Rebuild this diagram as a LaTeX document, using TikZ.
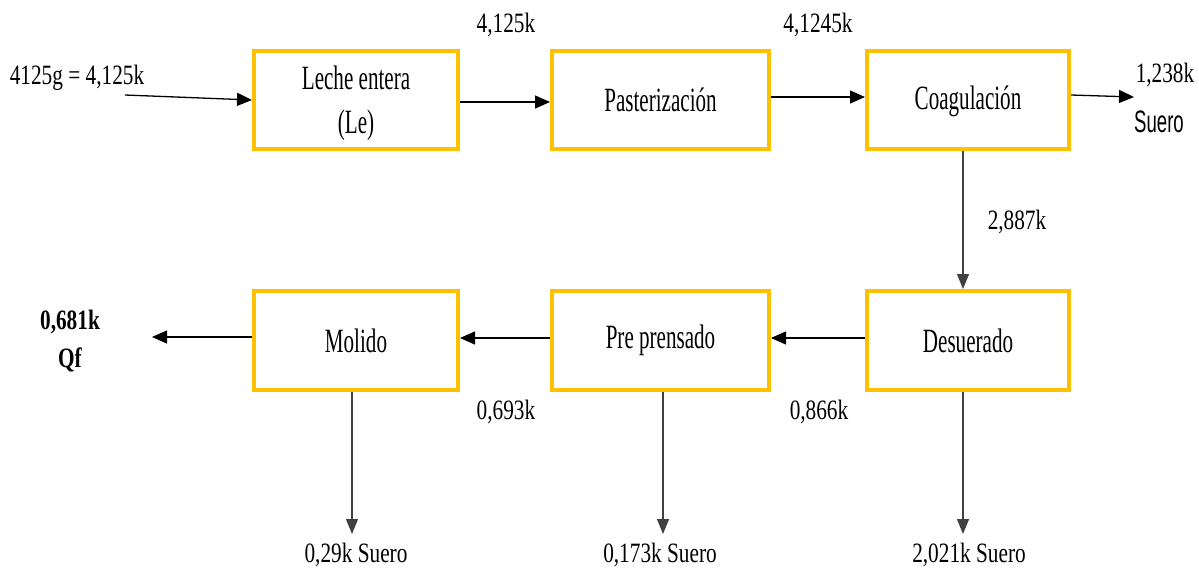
\documentclass[tikz,border=0pt]{standalone}
\usepackage{fontspec}
\usetikzlibrary{arrows.meta}
\newfontfamily\labfont[FakeStretch=0.76]{Liberation Serif}
\newfontfamily\boxfont[FakeStretch=0.62]{Liberation Serif}
\newfontfamily\sansnarrow[FakeStretch=0.6]{Liberation Sans}
\definecolor{boxyellow}{HTML}{FFC000}
\tikzset{
  procbox/.style={draw=boxyellow, line width=4pt, rectangle, inner sep=0pt,
    minimum height=98pt, font=\boxfont\fontsize{34}{44}\selectfont, align=center},
  flow/.style={draw=black, line width=1.3pt, -{Triangle[length=15pt,width=13pt]}},
  downflow/.style={draw=black!75, line width=1.1pt, -{Triangle[length=15pt,width=12pt]}},
  lab/.style={inner sep=0pt, font=\labfont\fontsize{28}{30}\selectfont},
  blab/.style={inner sep=0pt, font=\labfont\bfseries\fontsize{28}{30}\selectfont},
  slab/.style={inner sep=0pt, font=\sansnarrow\fontsize{31}{33}\selectfont}
}
\begin{document}
\begin{tikzpicture}[x=1pt,y=-1pt]
\useasboundingbox (0,0) rectangle (1199,571);
% boxes
\node[procbox, minimum width=204pt] (le) at (356,100) {\rule{0pt}{30pt}Leche entera\\(Le)};
\node[procbox, minimum width=217pt] (pa) at (660.5,100) {Pasterización};
\node[procbox, minimum width=202pt] (co) at (968,100) {\rule{0pt}{26pt}Coagulación};
\node[procbox, minimum width=202pt, minimum height=99pt] (de) at (968,340.5) {Desuerado};
\node[procbox, minimum width=217pt, minimum height=99pt] (pp) at (660.5,340.5) {Pre prensado};
\node[procbox, minimum width=204pt, minimum height=99pt] (mo) at (356,340.5) {Molido};
% free ends
\coordinate (inS) at (125,95);
\coordinate (coOut) at (1134,97);
\coordinate (moOut) at (152,337);
\coordinate (moDown) at (352,534);
\coordinate (ppDown) at (663,534);
\coordinate (deDown) at (963,534);
% connectors
\draw[flow] (inS) -- (le.west);
\draw[flow] ([yshift=-2pt]le.east) -- ([yshift=-2pt]pa.west);
\draw[flow] ([yshift=3pt]pa.east) -- ([yshift=3pt]co.west);
\draw[flow] ([yshift=5pt]co.east) -- (coOut);
\draw[downflow] ([xshift=-5pt]co.south) -- ([xshift=-5pt]de.north);
\draw[flow] ([yshift=2.5pt]de.west) -- ([yshift=2.5pt]pp.east);
\draw[flow] ([yshift=2.5pt]pp.west) -- ([yshift=2.5pt]mo.east);
\draw[flow] ([yshift=3.5pt]mo.west) -- (moOut);
\draw[downflow] ([xshift=-4pt]mo.south) -- (moDown);
\draw[downflow] ([xshift=2.5pt]pp.south) -- (ppDown);
\draw[downflow] ([xshift=-5pt]de.south) -- (deDown);
% labels
\node[lab] (l1) at (77,78) {4125g = 4,125k};
\node[lab] (l2) at (506,25) {4,125k};
\node[lab] (l3) at (818,25) {4,1245k};
\node[lab] (l4) at (1165,75) {1,238k};
\node[slab] (l5) at (1159,122) {Suero};
\node[lab] (l6) at (1017,222) {2,887k};
\node[blab] (l7) at (70,322) {0,681k};
\node[blab] (l8) at (70,360) {Qf};
\node[lab] (l9) at (506,412) {0,693k};
\node[lab] (l10) at (819,412) {0,866k};
\node[lab] (l11) at (356,555) {0,29k Suero};
\node[lab] (l12) at (660,555) {0,173k Suero};
\node[lab] (l13) at (969,555) {2,021k Suero};
\end{tikzpicture}
\end{document}
